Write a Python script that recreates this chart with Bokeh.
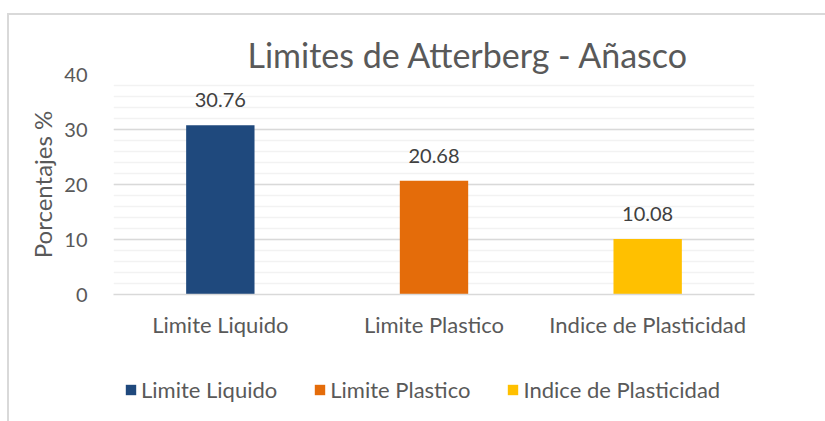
from bokeh.plotting import figure
from bokeh.layouts import column
from bokeh.models import (ColumnDataSource, FactorRange, Range1d, LabelSet,
                          SingleIntervalTicker, Legend, LegendItem)
from bokeh.core.properties import value
from bokeh.embed import file_html
from bokeh.resources import INLINE

categories = ["Limite Liquido", "Limite Plastico", "Indice de Plasticidad"]
values = [30.76, 20.68, 10.08]
value_labels = ["30.76", "20.68", "10.08"]
colors = ["#1F497D", "#E46C0A", "#FFC000"]

FONT = "Lato"
TXT = "#595959"

src = ColumnDataSource(dict(cat=categories, val=values, lab=value_labels, col=colors))

# ---- main chart ----
p = figure(width=816, height=350, output_backend="svg", toolbar_location=None,
           x_range=FactorRange(*categories, range_padding=0), y_range=Range1d(0, 40),
           min_border_left=104, min_border_right=71, min_border_top=59, min_border_bottom=71,
           title="Limites de Atterberg - Añasco")
p.outline_line_color = None
p.background_fill_color = "white"
p.border_fill_color = "white"

p.title.text_font = FONT
p.title.text_font_size = "34px"
p.title.text_font_style = "normal"
p.title.text_color = TXT
p.title.align = "left"
p.title.offset = 134
p.title.standoff = 0

r = p.vbar(x="cat", top="val", width=0.32, fill_color="col", line_color=None, source=src)

labels = LabelSet(x="cat", y="val", text="lab", source=src, text_align="center",
                  text_baseline="bottom", y_offset=18, text_font=value(FONT),
                  text_font_size="20px", text_color="#404040")
p.add_layout(labels)

p.yaxis.ticker = SingleIntervalTicker(interval=10, num_minor_ticks=5)
p.yaxis.axis_line_color = None
p.yaxis.major_tick_line_color = None
p.yaxis.minor_tick_line_color = None
p.yaxis.major_label_text_font = FONT
p.yaxis.major_label_text_font_size = "20px"
p.yaxis.major_label_text_color = TXT
p.yaxis.major_label_standoff = 20
p.yaxis.axis_label = "Porcentajes %"
p.yaxis.axis_label_text_font = FONT
p.yaxis.axis_label_text_font_size = "24px"
p.yaxis.axis_label_text_font_style = "normal"
p.yaxis.axis_label_text_color = TXT
p.yaxis.axis_label_standoff = 4

p.xaxis.axis_line_color = "#D9D9D9"
p.xaxis.axis_line_width = 1.5
p.xaxis.major_tick_line_color = None
p.xaxis.minor_tick_line_color = None
p.xaxis.major_label_text_font = FONT
p.xaxis.major_label_text_font_size = "22px"
p.xaxis.major_label_text_color = TXT
p.xaxis.major_label_standoff = 10

p.xgrid.grid_line_color = None
p.ygrid.grid_line_color = "#D9D9D9"
p.ygrid.grid_line_width = 1.5
p.ygrid.minor_grid_line_color = "#F2F2F2"
p.ygrid.minor_grid_line_width = 1.5

# ---- legend strip (its bars sit outside the visible y range; only the legend shows) ----
lg = figure(width=816, height=56, output_backend="svg", toolbar_location=None,
            x_range=p.x_range, y_range=Range1d(100, 101),
            x_axis_location=None, y_axis_location=None,
            min_border_left=0, min_border_right=0, min_border_top=0, min_border_bottom=0)
lg.outline_line_color = None
lg.grid.visible = False
lg.background_fill_color = "white"
lg.border_fill_color = "white"
r2 = lg.vbar(x="cat", top="val", width=0.32, fill_color="col", line_color=None, source=src)

items = [LegendItem(label=c, renderers=[r2], index=i) for i, c in enumerate(categories)]
legend = Legend(items=items, orientation="horizontal", location=(11, 18),
                glyph_width=13, glyph_height=13, label_standoff=4, spacing=36,
                padding=0, margin=0, border_line_color=None, background_fill_alpha=0,
                label_text_font=FONT, label_text_font_size="22px", label_text_color=TXT)
lg.add_layout(legend, "center")

layout = column(p, lg, spacing=0)
layout.margin = (13, 0, 0, 7)
layout.styles = {"border-top": "2px solid #D9D9D9", "border-left": "2px solid #D9D9D9"}

open("out.html", "w").write(file_html(layout, INLINE))
